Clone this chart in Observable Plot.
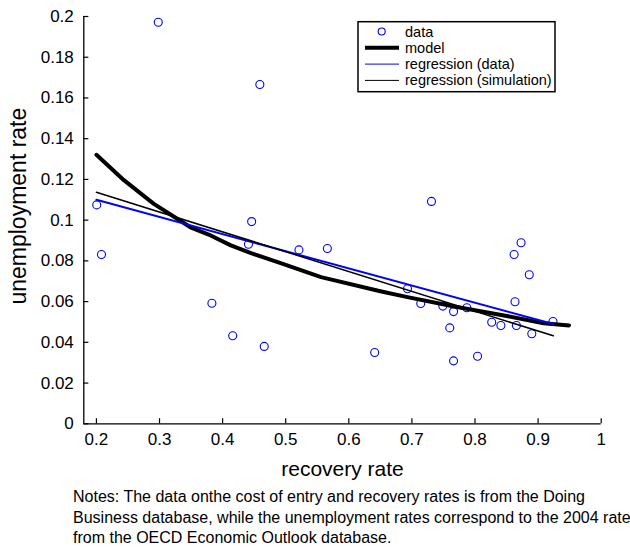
<!DOCTYPE html>
<html>
<head>
<meta charset="utf-8">
<script src="https://cdn.jsdelivr.net/npm/d3@7"></script>
<script src="https://cdn.jsdelivr.net/npm/@observablehq/plot@0.6"></script>
<style>
  html, body { margin: 0; padding: 0; background: #fff; }
  #chart { width: 630px; }
  #notes {
    font-family: "Liberation Sans", Arial, Helvetica, sans-serif;
    font-size: 16px; line-height: 20.5px; color: #000;
    margin: 0; padding: 7px 0 0 73px; width: 560px; white-space: nowrap;
  }
</style>
</head>
<body>
<div id="chart"></div>
<div id="notes"></div>
<script>
// ---- data ----
const recoveryRate = [0.2005, 0.208, 0.298, 0.459, 0.383, 0.416, 0.446, 0.441, 0.466, 0.521,
  0.566, 0.641, 0.693, 0.714, 0.731, 0.749, 0.766, 0.787, 0.760, 0.766,
  0.804, 0.8265, 0.841, 0.8656, 0.8634, 0.862, 0.873, 0.886, 0.890, 0.9236];
const unemploymentRate = [0.1075, 0.0831, 0.1972, 0.1666, 0.0592, 0.0432, 0.0993, 0.0882, 0.0380, 0.0854,
  0.0861, 0.0350, 0.0663, 0.0591, 0.1092, 0.0578, 0.0551, 0.0570, 0.0471, 0.0309,
  0.0332, 0.0499, 0.0483, 0.0483, 0.0599, 0.0831, 0.0889, 0.0732, 0.0442, 0.0502];

const modelX = [0.2, 0.244, 0.291, 0.328, 0.349, 0.381, 0.413, 0.445, 0.492, 0.556, 0.650, 0.693, 0.767, 0.846, 0.909, 0.949];
const modelY = [0.1321, 0.1195, 0.1080, 0.1007, 0.0965, 0.0925, 0.0876, 0.0838, 0.0789, 0.0720, 0.0651, 0.0622, 0.0576, 0.0532, 0.0494, 0.0483];

const regDataX = [0.2, 0.924];
const regDataY = [0.110, 0.049];
const regSimX = [0.2, 0.924];
const regSimY = [0.1137, 0.0432];

const xTicks = [0.2, 0.3, 0.4, 0.5, 0.6, 0.7, 0.8, 0.9, 1];
const yTicks = [0, 0.02, 0.04, 0.06, 0.08, 0.1, 0.12, 0.14, 0.16, 0.18, 0.2];

const legendLabels = ["data", "model", "regression (data)", "regression (simulation)"];
const xLabel = "recovery rate";
const yLabel = "unemployment rate";
const notesLines = [
  "Notes: The data onthe cost of entry and recovery rates is from the Doing",
  "Business database, while the unemployment rates correspond to the 2004 rate",
  "from the OECD Economic Outlook database."
];

// ---- tables ----
const points = recoveryRate.map((x, i) => ({x, y: unemploymentRate[i]}));
const model = modelX.map((x, i) => ({x, y: modelY[i]}));
const regData = regDataX.map((x, i) => ({x, y: regDataY[i]}));
const regSim = regSimX.map((x, i) => ({x, y: regSimY[i]}));

const FONT = '"Liberation Sans", Arial, Helvetica, sans-serif';
const xMin = 0.18, xMax = 1;

const chart = Plot.plot({
  width: 630,
  height: 480,
  marginLeft: 83.3,
  marginRight: 29.3,
  marginTop: 16,
  marginBottom: 56.7,
  x: {domain: [xMin, xMax]},
  y: {domain: [0, 0.2]},
  style: {fontFamily: FONT, color: "#000", background: "#fff", overflow: "visible"},
  marks: [
    Plot.axisX(xTicks, {tickSize: 0, tickPadding: 9, fontSize: 17, label: null, tickFormat: d => String(d)}),
    Plot.axisY(yTicks, {tickSize: 0, tickPadding: 10, fontSize: 17, label: null, tickFormat: d => String(d)}),
    // inward ticks
    Plot.ruleX(xTicks, {x: d => d, y1: 0, y2: 0.0025, stroke: "#000", strokeWidth: 1.2}),
    Plot.ruleY(yTicks, {y: d => d, x1: xMin, x2: xMin + 0.008, stroke: "#000", strokeWidth: 1.2}),
    // axis lines
    Plot.ruleX([xMin], {y1: 0, y2: 0.2, stroke: "#000", strokeWidth: 1.3}),
    Plot.ruleY([0], {x1: xMin, x2: xMax, stroke: "#000", strokeWidth: 1.3}),
    // data
    Plot.dot(points, {x: "x", y: "y", r: 4, stroke: "blue", strokeWidth: 1.1, fill: "none"}),
    Plot.line(model, {x: "x", y: "y", stroke: "#000", strokeWidth: 4, curve: "linear"}),
    Plot.line(regData, {x: "x", y: "y", stroke: "blue", strokeWidth: 2}),
    Plot.line(regSim, {x: "x", y: "y", stroke: "#000", strokeWidth: 1.5}),
    // axis titles
    Plot.text([xLabel], {frameAnchor: "bottom", textAnchor: "middle", lineAnchor: "middle", dy: 45, dx: 0, fontSize: 21, fill: "#000"}),
    Plot.text([yLabel], {frameAnchor: "left", textAnchor: "middle", lineAnchor: "middle", dx: -65, dy: -14, rotate: -90, fontSize: 23, fill: "#000"})
  ]
});

document.getElementById("chart").appendChild(chart);

// ---- notes ----
const notes = d3.select("#notes");
notesLines.forEach(line => notes.append("div").text(line));

// ---- legend ----
const svg = d3.select(chart);
const lg = svg.append("g").attr("font-family", FONT).attr("font-size", 14.5).attr("text-anchor", "start");
lg.append("rect").attr("x", 358).attr("y", 21.7).attr("width", 197).attr("height", 70)
  .attr("fill", "#fff").attr("stroke", "#000").attr("stroke-width", 1.5);
const rowY = i => 31.5 + i * 16.3;
const styles = [
  {type: "dot"},
  {type: "line", stroke: "#000", width: 4},
  {type: "line", stroke: "blue", width: 1},
  {type: "line", stroke: "#000", width: 1}
];
legendLabels.forEach((label, i) => {
  const y = rowY(i);
  const s = styles[i];
  if (s.type === "dot") {
    lg.append("circle").attr("cx", 381.7).attr("cy", y).attr("r", 3.5)
      .attr("fill", "none").attr("stroke", "blue").attr("stroke-width", 1.1);
  } else {
    lg.append("line").attr("x1", 365).attr("x2", 399).attr("y1", y).attr("y2", y)
      .attr("stroke", s.stroke).attr("stroke-width", s.width);
  }
  lg.append("text").attr("x", 405).attr("y", y).attr("dy", "0.35em").attr("fill", "#000")
    .attr("text-anchor", "start").text(label);
});
</script>
</body>
</html>
